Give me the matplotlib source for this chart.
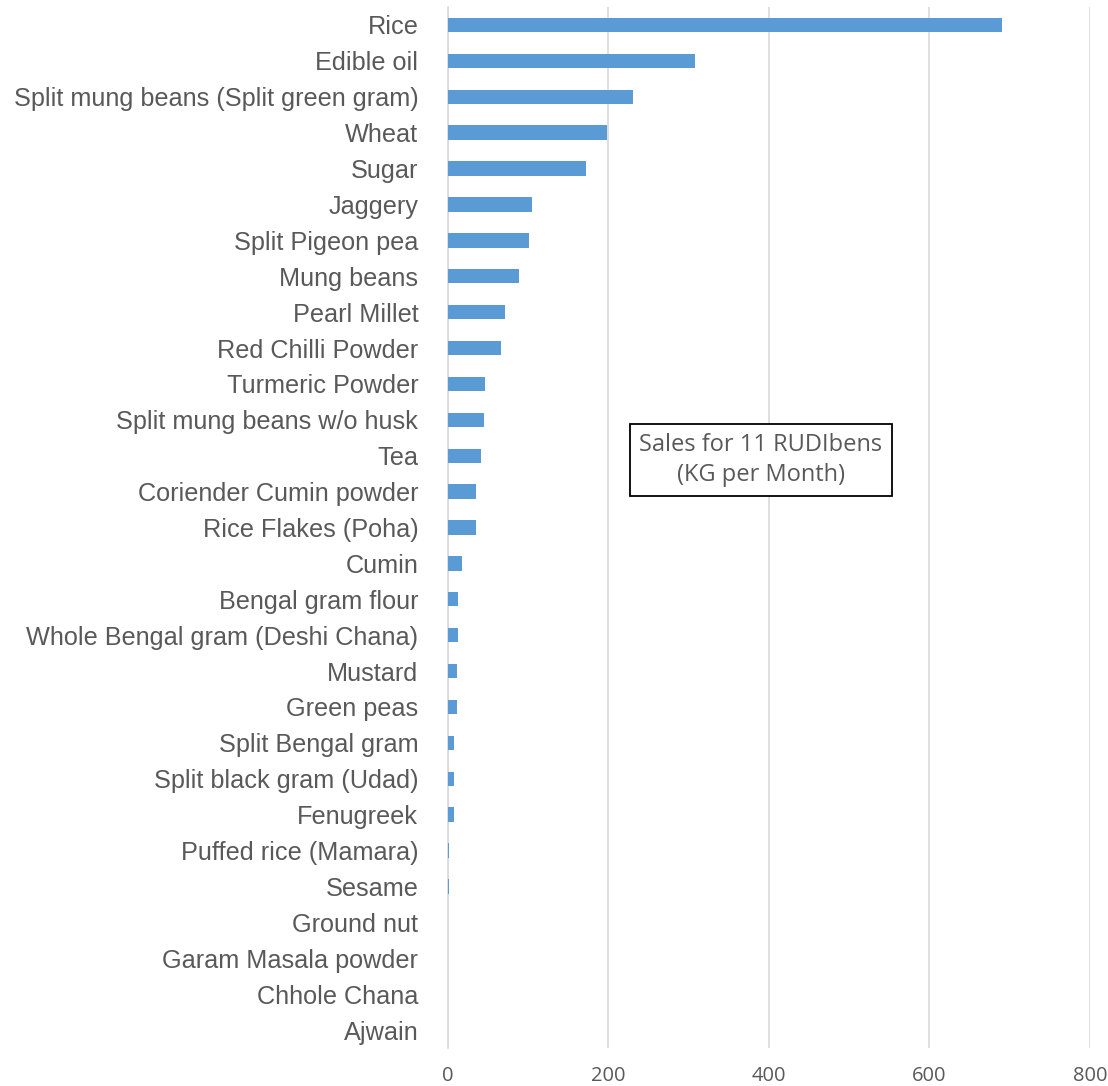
import matplotlib.pyplot as plt
import numpy as np

items = ['Rice', 'Edible oil', 'Split mung beans (Split green gram)', 'Wheat', 'Sugar',
         'Jaggery', 'Split Pigeon pea', 'Mung beans', 'Pearl Millet', 'Red Chilli Powder',
         'Turmeric Powder', 'Split mung beans w/o husk', 'Tea', 'Coriender Cumin powder',
         'Rice Flakes (Poha)', 'Cumin', 'Bengal gram flour', 'Whole Bengal gram (Deshi Chana)',
         'Mustard', 'Green peas', 'Split Bengal gram', 'Split black gram (Udad)', 'Fenugreek',
         'Puffed rice (Mamara)', 'Sesame', 'Ground nut', 'Garam Masala powder',
         'Chhole Chana', 'Ajwain']
kg_per_month = [690, 308, 231, 199, 173,
                105, 102, 89, 71, 66,
                47, 46, 42, 36,
                35, 18, 13.5, 13.5,
                12, 12, 8, 8, 8,
                2, 2, 0, 0,
                0, 0]
xticks = [0, 200, 400, 600, 800]

grey = '#595959'
fig = plt.figure(figsize=(11.08, 10.86), dpi=100)
ax = fig.add_axes([447.5 / 1108, 1 - 1048 / 1086, (1090 - 447.5) / 1108, (1048 - 7) / 1086])

y = np.arange(len(items))
ax.barh(y, kg_per_month, height=0.4, color='#5B9BD5', zorder=3)
ax.set_ylim(len(items) - 0.5, -0.5)
ax.set_xlim(0, 800)
ax.set_yticks(y)
ax.set_yticklabels(items, fontsize=18.2, color=grey, family='Liberation Sans')
ax.set_xticks(xticks)
ax.set_xticklabels([str(t) for t in xticks], fontsize=14.5, color=grey, family='Open Sans')
ax.tick_params(axis='y', length=0, pad=21)
ax.tick_params(axis='x', length=0, pad=13)
ax.grid(axis='x', color='#D9D9D9', linewidth=1.2, zorder=0)
for s in ['top', 'right', 'bottom']:
    ax.spines[s].set_visible(False)
ax.spines['left'].set_color('#D9D9D9')
ax.spines['left'].set_linewidth(1.2)

fig.text(761 / 1108, 1 - 460 / 1086, 'Sales for 11 RUDIbens\n(KG per Month)',
         ha='center', va='center', fontsize=17, color=grey, family='Open Sans',
         linespacing=1.3,
         bbox=dict(boxstyle='square,pad=0.4', facecolor='white', edgecolor='black', linewidth=1.3))

fig.savefig('out.png', dpi=100)
